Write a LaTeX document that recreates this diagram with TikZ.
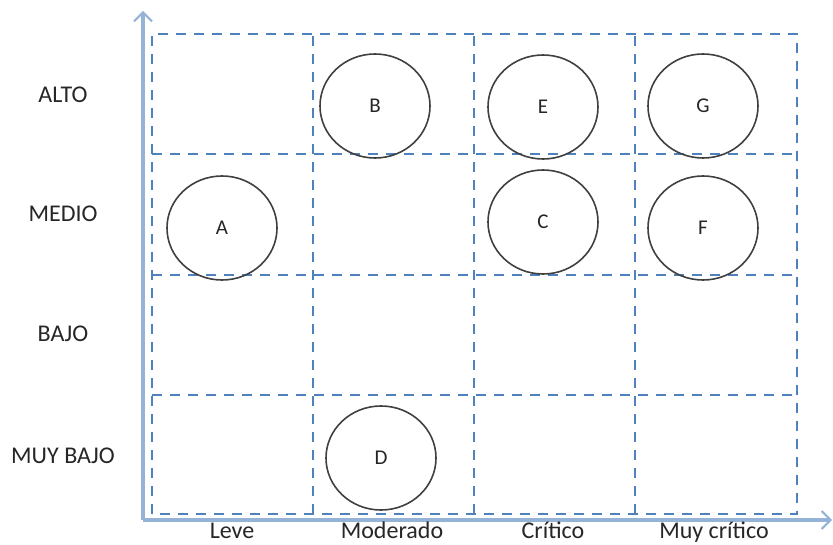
\documentclass[tikz,border=0pt]{standalone}
\usepackage{fontspec}
\setmainfont{Carlito}
\usepackage{xcolor}
\definecolor{cAxis}{HTML}{95B3D7}
\definecolor{cGrid}{HTML}{4F81BD}
\definecolor{cRing}{HTML}{404040}
\definecolor{cText}{HTML}{262626}
\usepackage{tikz}
\usetikzlibrary{positioning,arrows.meta,shapes.geometric}
\tikzset{
  axis-line/.style={draw=cAxis,line width=3.5pt,-{Straight Barb[length=9pt,width=18pt,line width=2pt]}},
  grid-line/.style={draw=cGrid,line width=1.8pt,dash pattern=on 10pt off 8pt},
  risk-ring/.style={draw=cRing,line width=1.6pt,ellipse,minimum width=110pt,
    minimum height=104pt,inner sep=0pt,font=\fontsize{21}{24}\selectfont,text=cText},
  level-label/.style={font=\fontsize{24}{28}\selectfont,text=cText},
  impact-label/.style={level-label,anchor=base},
}

\begin{document}
\begin{tikzpicture}[x=1pt,y=1pt]
  \useasboundingbox (0,0) rectangle (833,544);
  % rejilla de la matriz
  \draw[grid-line] (152,30) rectangle (797,510);
  \foreach \gx in {313,474,635}
    \draw[grid-line] (\gx,30) -- (\gx,510);
  \foreach \gy in {149,269,390}
    \draw[grid-line] (152,\gy) -- (797,\gy);
  % ejes
  \coordinate (origin) at (143,24);
  \coordinate (ytop) at (143,533);
  \coordinate (xend) at (832,24);
  \draw[axis-line] (origin) -- (ytop);
  \draw[axis-line] (origin) -- (xend);
  % niveles de probabilidad
  \node[level-label] (alto) at (63,449) {ALTO};
  \node[level-label] (medio) at (63,330) {MEDIO};
  \node[level-label] (bajo) at (63,210) {BAJO};
  \node[level-label] (muybajo) at (63,88) {MUY BAJO};
  % niveles de impacto
  \node[impact-label] (leve) at (232,6) {Leve};
  \node[impact-label] (moderado) at (392,6) {Moderado};
  \node[impact-label] (critico) at (553,6) {Crítico};
  \node[impact-label] (muycritico) at (714,6) {Muy crítico};
  % riesgos
  \node[risk-ring] (rB) at (375,438) {B};
  \node[risk-ring] (rE) at (543,437) {E};
  \node[risk-ring] (rG) at (703,438) {G};
  \node[risk-ring] (rA) at (222,316) {A};
  \node[risk-ring] (rC) at (543,322) {C};
  \node[risk-ring] (rF) at (703,316) {F};
  \node[risk-ring] (rD) at (381,86) {D};
\end{tikzpicture}
\end{document}
